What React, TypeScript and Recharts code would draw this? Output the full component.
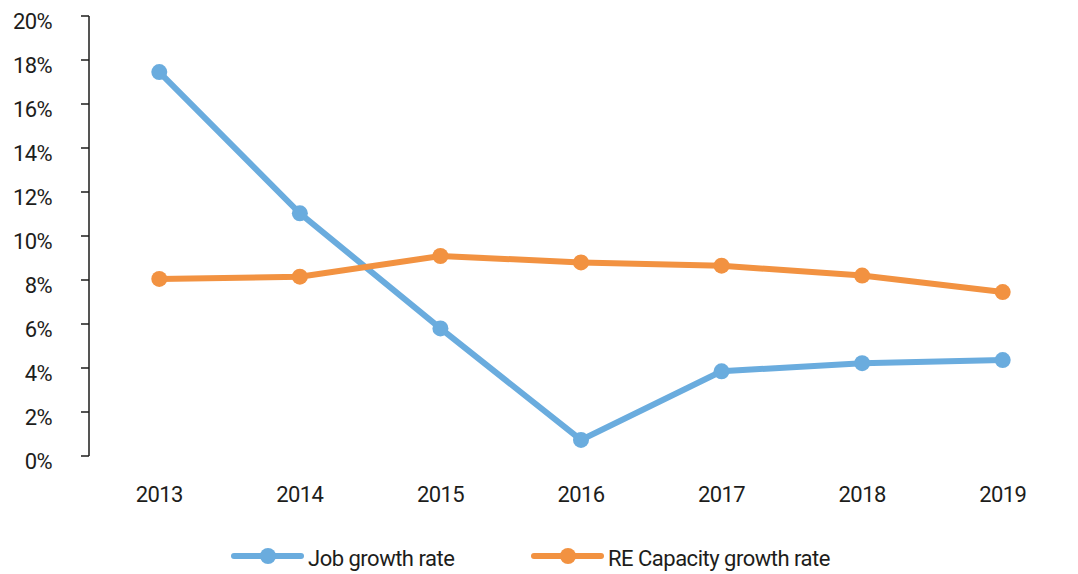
import { CartesianGrid, Legend, Line, LineChart, XAxis, YAxis } from "recharts";

const years = ["2013", "2014", "2015", "2016", "2017", "2018", "2019"];
const jobGrowth = [17.45, 11.03, 5.8, 0.73, 3.85, 4.22, 4.36];
const reCapacityGrowth = [8.05, 8.15, 9.09, 8.8, 8.65, 8.2, 7.45];
const yTicks = [0, 2, 4, 6, 8, 10, 12, 14, 16, 18, 20];

const series = [
  { key: "job", name: "Job growth rate", color: "#6AACDE", legendX: 231 },
  { key: "re", name: "RE Capacity growth rate", color: "#F29241", legendX: 531 },
];

const data = years.map((year, i) => ({
  pos: i + 0.5,
  year,
  job: jobGrowth[i],
  re: reCapacityGrowth[i],
}));

const bandEdges = years.map((_, i) => i).concat(years.length);
const bandCenters = years.map((_, i) => i + 0.5);

const font = "Roboto, 'Open Sans', sans-serif";
const ink = "#1d1d1b";
const textStyle = { fontSize: 22, fill: ink, letterSpacing: -0.6 };

function LegendRow() {
  return (
    <div style={{ position: "relative", height: 28, fontFamily: font, fontSize: 22, letterSpacing: -0.5, color: ink }}>
      {series.map((s) => (
        <div key={s.key} style={{ position: "absolute", left: s.legendX, top: 0, display: "flex", alignItems: "center", whiteSpace: "nowrap" }}>
          <svg width={73} height={20}>
            <line x1={3} y1={10} x2={70} y2={10} stroke={s.color} strokeWidth={6} strokeLinecap="round" />
            <circle cx={37} cy={10} r={8} fill={s.color} />
          </svg>
          <span style={{ marginLeft: 4, position: "relative", top: 3 }}>{s.name}</span>
        </div>
      ))}
    </div>
  );
}

export default function App() {
  return (
    <div style={{ position: "absolute", left: 0, top: 0, width: 1078, height: 574, overflow: "hidden", background: "#fff", fontFamily: font }}>
      <LineChart width={1078} height={574} data={data} margin={{ top: 16, right: 5, left: 0, bottom: 0 }}>
        <CartesianGrid stroke="none" />
        <XAxis
          xAxisId="edges"
          type="number"
          dataKey="pos"
          domain={[0, years.length]}
          ticks={bandEdges}
          tickFormatter={() => ""}
          height={0}
          tickSize={8}
          stroke={ink}
          strokeWidth={1.5}
          tickLine={{ stroke: ink, strokeWidth: 1.5 }}
        />
        <XAxis
          xAxisId="labels"
          type="number"
          dataKey="pos"
          domain={[0, years.length]}
          ticks={bandCenters}
          tickFormatter={(v: number) => years[Math.round(v - 0.5)]}
          axisLine={false}
          tickLine={false}
          tickSize={0}
          tickMargin={30}
          height={118}
          tick={textStyle}
        />
        <YAxis
          type="number"
          domain={[0, 20]}
          ticks={yTicks}
          tickFormatter={(v: number) => `${v}%`}
          width={89}
          tickSize={8}
          tickMargin={29}
          stroke={ink}
          strokeWidth={1.5}
          tickLine={{ stroke: ink, strokeWidth: 1.5 }}
          tick={{ ...textStyle, dy: 5 }}
        />
        {series.map((s) => (
          <Line
            key={s.key}
            xAxisId="edges"
            dataKey={s.key}
            name={s.name}
            type="linear"
            stroke={s.color}
            strokeWidth={6}
            dot={{ r: 8, fill: s.color, stroke: "none" }}
            activeDot={false}
            isAnimationActive={false}
          />
        ))}
        <Legend
          layout="horizontal"
          verticalAlign="middle"
          align="center"
          content={() => <LegendRow />}
          wrapperStyle={{ position: "absolute", top: 543, left: 0, width: 1078 }}
        />
      </LineChart>
    </div>
  );
}
